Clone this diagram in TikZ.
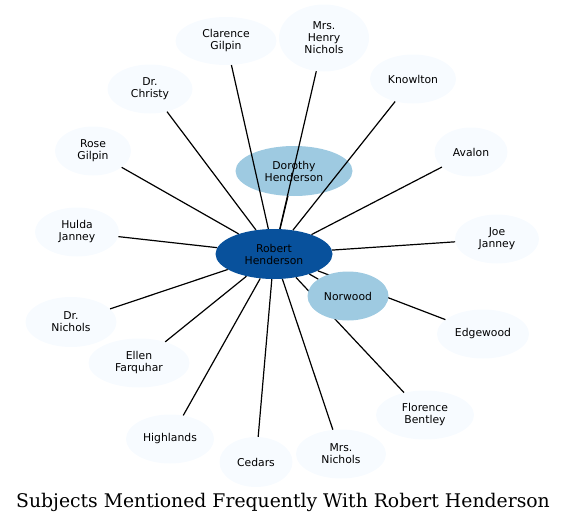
\documentclass[tikz,border=0pt]{standalone}
\usepackage{fontspec}
\setmainfont{DejaVu Sans}
\newfontfamily\titlefont{DejaVu Serif}
\usepackage{xcolor}
\usetikzlibrary{shapes.geometric}
\definecolor{hubblue}{HTML}{08519C}
\definecolor{midblue}{HTML}{9ECAE1}
\definecolor{paleblue}{HTML}{F7FBFF}
\tikzset{
  person/.style={ellipse,inner sep=0pt,align=center,minimum height=49pt,
    font=\fontsize{10.8}{12}\selectfont,fill=paleblue},
  hubnode/.style={person,fill=hubblue},
  midnode/.style={person,fill=midblue},
  link/.style={line width=1.2pt,black}
}
\begin{document}
\begin{tikzpicture}[x=1pt,y=-1pt]
\useasboundingbox (0,0) rectangle (565,522);
\node[hubnode,minimum width=117pt,minimum height=50pt] (rh) at (274,254) {Robert\\Henderson};
\node[midnode,minimum width=117pt,minimum height=50pt] (dh) at (294,171) {Dorothy\\Henderson};
\node[person,minimum width=101pt,minimum height=48pt] (cg) at (226,41) {Clarence\\Gilpin};
\node[person,minimum width=90pt,minimum height=67pt] (mhn) at (324,38) {Mrs.\\Henry\\Nichols};
\node[person,minimum width=86pt] (kn) at (413,79) {Knowlton};
\node[person,minimum width=85pt] (dc) at (150,89) {Dr.\\Christy};
\node[person,minimum width=73pt] (av) at (471,152) {Avalon};
\node[person,minimum width=76pt] (rg) at (93,151) {Rose\\Gilpin};
\node[person,minimum width=84pt] (jj) at (497,239) {Joe\\Janney};
\node[person,minimum width=84pt] (hj) at (77,232) {Hulda\\Janney};
\node[person,minimum width=92pt] (ew) at (483,334) {Edgewood};
\node[person,minimum width=91pt,minimum height=50pt] (dn) at (71,322) {Dr.\\Nichols};
\node[person,minimum width=101pt] (ef) at (139,363) {Ellen\\Farquhar};
\node[person,minimum width=98pt] (fb) at (425,415) {Florence\\Bentley};
\node[person,minimum width=88pt] (hl) at (170,439) {Highlands};
\node[person,minimum width=73pt,minimum height=50pt] (cd) at (256,462) {Cedars};
\node[person,minimum width=90pt] (mn) at (341,454) {Mrs.\\Nichols};
% spokes from the hub
\foreach \n in {dh,cg,mhn,kn,dc,av,rg,jj,hj,ew,dn,ef,fb,hl,cd,mn}
  \draw[link] (rh) -- (\n);
% Norwood sits on top of the Edgewood spoke
\node[midnode,minimum width=81pt] (nw) at (348,296) {Norwood};
\draw[link] (rh) -- (nw);
\node[font=\titlefont\fontsize{18.8}{22}\selectfont,anchor=base] (title) at (283,507)
  {Subjects Mentioned Frequently With Robert Henderson};
\end{tikzpicture}
\end{document}
